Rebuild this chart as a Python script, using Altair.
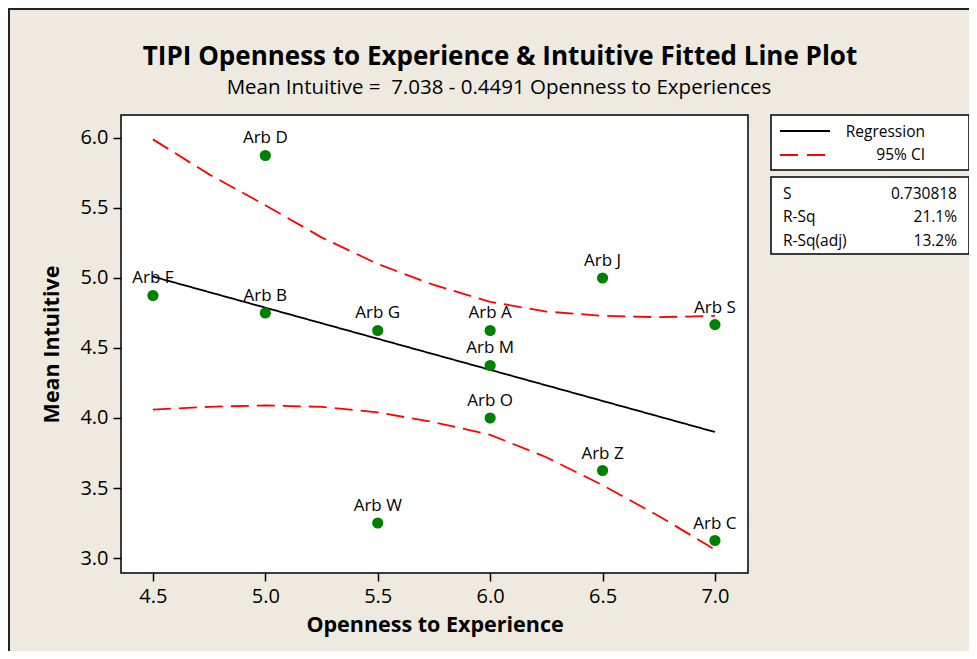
import altair as alt
import pandas as pd

# ---------------- data ----------------
pt_x = [4.5, 5.0, 5.0, 5.5, 5.5, 6.0, 6.0, 6.0, 6.5, 6.5, 7.0, 7.0]
pt_y = [4.875, 5.875, 4.75, 4.625, 3.25, 4.625, 4.375, 4.0, 5.0, 3.625, 4.667, 3.125]
pt_lab = ["Arb F", "Arb D", "Arb B", "Arb G", "Arb W", "Arb A", "Arb M", "Arb O",
          "Arb J", "Arb Z", "Arb S", "Arb C"]

reg_x = [4.5, 7.0]
reg_y = [5.01, 3.90]

ci_x = [4.5, 4.75, 5.0, 5.25, 5.5, 5.75, 6.0, 6.25, 6.5, 6.75, 7.0]
ci_upper = [5.99, 5.74, 5.52, 5.29, 5.10, 4.95, 4.83, 4.76, 4.73, 4.72, 4.73]
ci_lower = [4.06, 4.08, 4.09, 4.08, 4.04, 3.97, 3.88, 3.72, 3.52, 3.30, 3.06]

title_text = "TIPI Openness to Experience & Intuitive Fitted Line Plot"
subtitle_text = "Mean Intuitive = \u00a07.038 - 0.4491 Openness to Experiences"
legend_names = ["Regression", "95% CI"]
stat_names = ["S", "R-Sq", "R-Sq(adj)"]
stat_values = ["0.730818", "21.1%", "13.2%"]

x_ticks = [4.5, 5.0, 5.5, 6.0, 6.5, 7.0]
y_ticks = [3.0, 3.5, 4.0, 4.5, 5.0, 5.5, 6.0]

FONT = "Open Sans"

points = pd.DataFrame({"x": pt_x, "y": pt_y, "label": pt_lab})
lines = pd.concat([
    pd.DataFrame({"x": reg_x, "y": reg_y, "kind": "Regression", "band": "fit"}),
    pd.DataFrame({"x": ci_x, "y": ci_upper, "kind": "95% CI", "band": "upper"}),
    pd.DataFrame({"x": ci_x, "y": ci_lower, "kind": "95% CI", "band": "lower"}),
], ignore_index=True)

xs = alt.Scale(domain=[4.358, 7.147], nice=False, zero=False)
ys = alt.Scale(domain=[2.893, 6.164], nice=False, zero=False)

X = alt.X("x:Q", scale=xs, title="Openness to Experience",
          axis=alt.Axis(values=x_ticks, format=".1f"))
Y = alt.Y("y:Q", scale=ys, title="Mean Intuitive",
          axis=alt.Axis(values=y_ticks, format=".1f"))

line_layer = alt.Chart(lines).mark_line(strokeWidth=1.8).encode(
    x=X, y=Y,
    color=alt.Color("kind:N", scale=alt.Scale(domain=legend_names, range=["black", "#ff0000"]), legend=None),
    strokeDash=alt.StrokeDash("kind:N", scale=alt.Scale(domain=legend_names, range=[[1, 0], [18, 8]]), legend=None),
    detail="band:N",
    order=alt.Order("x:Q"),
)

pt_layer = alt.Chart(points).mark_circle(size=125, color="#008000", opacity=1).encode(x=X, y=Y)
lab_layer = alt.Chart(points).mark_text(dy=-17, fontSize=17, font=FONT, color="black").encode(
    x=X, y=Y, text="label:N")

one = pd.DataFrame({"a": [0]})

# title and subtitle
title_layer = alt.Chart(pd.DataFrame({"t": [title_text]})).mark_text(
    align="center", baseline="alphabetic", font=FONT, fontSize=26, fontWeight="bold", color="black").encode(
    x=alt.value(379), y=alt.value(-50), text="t:N")
subtitle_layer = alt.Chart(pd.DataFrame({"t": [subtitle_text]})).mark_text(
    align="center", baseline="alphabetic", font=FONT, fontSize=20.5, color="black").encode(
    x=alt.value(378), y=alt.value(-21), text="t:N")

# legend box (panel to the right of the plot)
leg_box = alt.Chart(one).mark_rect(fill="white", stroke="black", strokeWidth=1.5).encode(
    x=alt.value(650), x2=alt.value(848), y=alt.value(0), y2=alt.value(55))
leg_reg = alt.Chart(one).mark_rule(color="black", strokeWidth=1.8).encode(
    x=alt.value(659), x2=alt.value(709), y=alt.value(16))
leg_ci = alt.Chart(one).mark_rule(color="#ff0000", strokeWidth=1.8, strokeDash=[18, 9]).encode(
    x=alt.value(659), x2=alt.value(706), y=alt.value(40))
leg_txt = [
    alt.Chart(pd.DataFrame({"t": [legend_names[i]]})).mark_text(
        align="right", baseline="middle", fontSize=15.5, font=FONT, color="black").encode(
        x=alt.value(804), y=alt.value(yy), text="t:N")
    for i, yy in enumerate([17, 40])
]

stat_box = alt.Chart(one).mark_rect(fill="white", stroke="black", strokeWidth=1.5).encode(
    x=alt.value(650), x2=alt.value(848), y=alt.value(62), y2=alt.value(139))
stat_txt = []
for i, yy in enumerate([79, 102, 126]):
    d = pd.DataFrame({"n": [stat_names[i]], "v": [stat_values[i]]})
    stat_txt.append(alt.Chart(d).mark_text(align="left", baseline="middle", fontSize=15.5, font=FONT,
                                           color="black").encode(x=alt.value(662), y=alt.value(yy), text="n:N"))
    stat_txt.append(alt.Chart(d).mark_text(align="right", baseline="middle", fontSize=15.5, font=FONT,
                                           color="black").encode(x=alt.value(836), y=alt.value(yy), text="v:N"))

# window frame lines (top and left)
frame_top = alt.Chart(one).mark_rule(color="#222222", strokeWidth=2).encode(
    x=alt.value(-113), x2=alt.value(848), y=alt.value(-106))
frame_left = alt.Chart(one).mark_rule(color="#222222", strokeWidth=2).encode(
    x=alt.value(-112), y=alt.value(-107), y2=alt.value(536))

chart = alt.layer(
    frame_top, frame_left, title_layer, subtitle_layer,
    line_layer, pt_layer, lab_layer,
    leg_box, leg_reg, leg_ci, *leg_txt,
    stat_box, *stat_txt,
).properties(
    width=627, height=458,
    autosize=alt.AutoSizeParams(type="none"),
    padding={"left": 113, "top": 107, "right": 221, "bottom": 78},
).configure(
    background="#eeeae0",
).configure_view(
    fill="white", stroke="black", strokeWidth=1.5,
).configure_axis(
    grid=False, domain=False,
    labelFont=FONT, labelFontSize=20, labelColor="black", labelPadding=5,
    tickColor="black", tickWidth=1.5, tickSize=8,
    titleFont=FONT, titleFontSize=21.5, titleFontWeight="bold", titleColor="black",
).configure_axisX(titlePadding=8).configure_axisY(titlePadding=16)

chart.save("out.html", embed_options={"renderer": "svg", "actions": False})
